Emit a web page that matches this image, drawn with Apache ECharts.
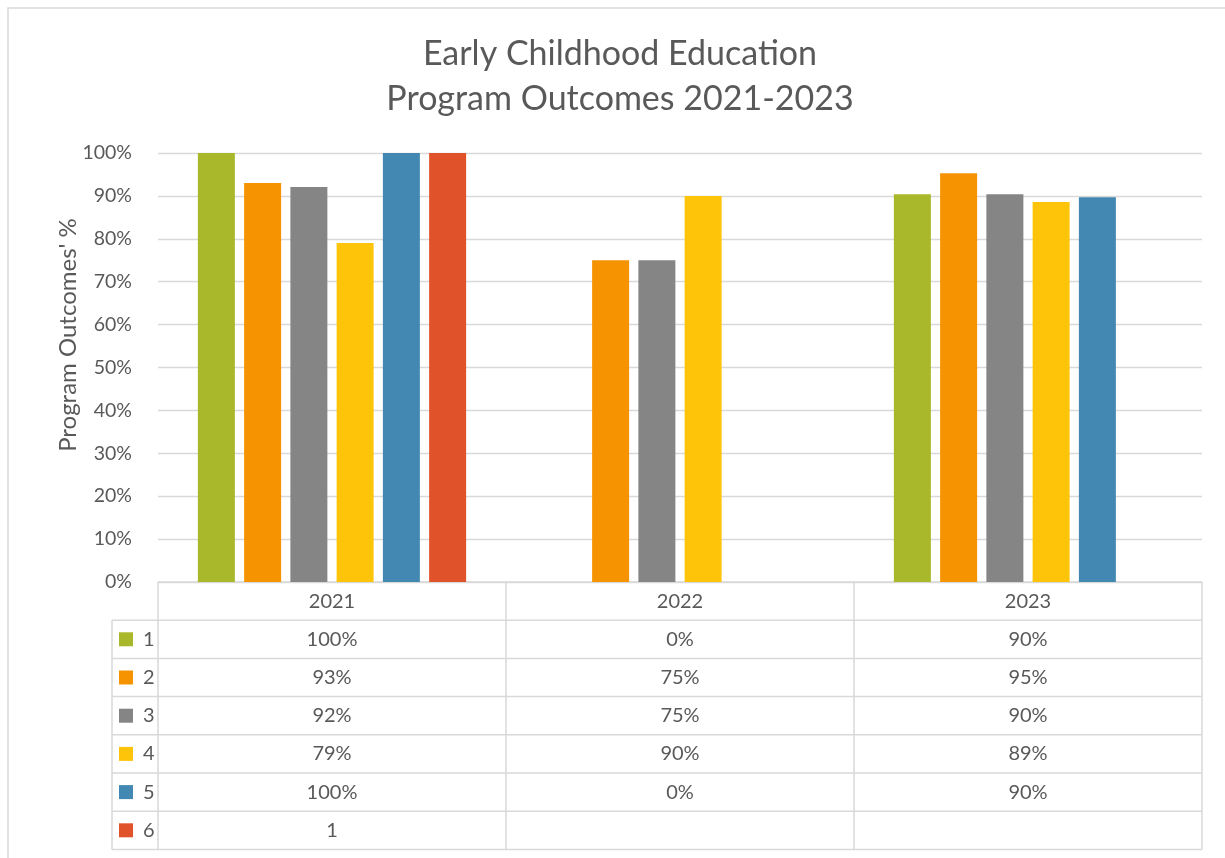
<!DOCTYPE html>
<html>
<head>
<meta charset="utf-8">
<title>Early Childhood Education Program Outcomes 2021-2023</title>
<style>
  html, body { margin: 0; padding: 0; background: #fff; }
  #chart { width: 1225px; height: 858px; }
</style>
<script src="https://cdn.jsdelivr.net/npm/echarts@6/dist/echarts.min.js"></script>
</head>
<body>
<div id="chart"></div>
<script>
// data
const years = ['2021', '2022', '2023'];
const seriesNames = ['1', '2', '3', '4', '5', '6'];
const outcome1 = [1.00, 0, 0.904];
const outcome2 = [0.93, 0.75, 0.953];
const outcome3 = [0.921, 0.75, 0.904];
const outcome4 = [0.79, 0.90, 0.886];
const outcome5 = [1.00, 0, 0.897];
const outcome6 = [1, null, null];
// series 6 is shown as a plain number in the data table, the rest as percent
const tableFormats = ['pct', 'pct', 'pct', 'pct', 'pct', 'general'];

const seriesData = [outcome1, outcome2, outcome3, outcome4, outcome5, outcome6];
const colors = ['#a8b82a', '#f59300', '#858585', '#fdc40a', '#4288b2', '#e0532a'];

const FONT = 'Lato';
const TEXT = '#595959';
const LINE = '#d9d9d9';

const fmt = (v, kind) => {
  if (v == null) return '';
  return kind === 'pct' ? Math.round(v * 100) + '%' : String(v);
};

const chart = echarts.init(document.getElementById('chart'));

chart.setOption({
  animation: false,
  color: colors,
  title: {
    text: 'Early Childhood Education\nProgram Outcomes 2021-2023',
    left: 620,
    top: 32,
    padding: 0,
    textAlign: 'center',
    textStyle: {
      fontFamily: FONT,
      fontSize: 34,
      fontWeight: 'normal',
      color: TEXT,
      lineHeight: 45
    }
  },
  grid: {
    left: 158,
    right: 23,
    top: 153,
    bottom: 276
  },
  xAxis: {
    type: 'category',
    data: years,
    axisLabel: { show: false },
    axisTick: { show: false },
    axisLine: { show: false }
  },
  yAxis: {
    type: 'value',
    min: 0,
    max: 1,
    interval: 0.1,
    axisLine: { show: false },
    axisTick: { show: false },
    axisLabel: {
      formatter: (v) => Math.round(v * 100) + '%',
      color: TEXT,
      fontFamily: FONT,
      fontSize: 19.5,
      margin: 26
    },
    splitLine: {
      lineStyle: { color: LINE, width: 1.3 }
    }
  },
  series: seriesNames.map((name, i) => ({
    name: name,
    type: 'bar',
    data: seriesData[i],
    barWidth: 37,
    barGap: '25%'
  }))
});

// data table under the plot, laid out from the category axis
const centers = years.map((y) => chart.convertToPixel({ xAxisIndex: 0 }, y));
const band = centers[1] - centers[0];
const baseY = chart.convertToPixel({ yAxisIndex: 0 }, 0);
const rowH = 38.2;
const legendLeft = 112;
const tableLeft = centers[0] - band / 2;
const tableRight = centers[centers.length - 1] + band / 2;
const rowsTop = baseY + rowH;
const tableBottom = rowsTop + seriesNames.length * rowH;

const lineStyle = { stroke: LINE, lineWidth: 1.5 };
const textStyle = (extra) => Object.assign({
  fill: TEXT,
  font: '20px ' + FONT,
  verticalAlign: 'middle'
}, extra);

const els = [];
// outer chart border
els.push({
  type: 'rect',
  shape: { x: 8, y: 8, width: 1240, height: 870 },
  style: { fill: null, stroke: LINE, lineWidth: 1.5 },
  silent: true
});
// header row top
els.push({ type: 'line', shape: { x1: tableLeft, y1: baseY, x2: tableRight, y2: baseY }, style: lineStyle });
for (let r = 0; r <= seriesNames.length; r++) {
  const y = rowsTop + r * rowH;
  els.push({ type: 'line', shape: { x1: legendLeft, y1: y, x2: tableRight, y2: y }, style: lineStyle });
}
els.push({ type: 'line', shape: { x1: legendLeft, y1: rowsTop, x2: legendLeft, y2: tableBottom }, style: lineStyle });
for (let c = 0; c <= years.length; c++) {
  const x = tableLeft + c * band;
  els.push({ type: 'line', shape: { x1: x, y1: baseY, x2: x, y2: tableBottom }, style: lineStyle });
}
years.forEach((y, c) => {
  els.push({
    type: 'text',
    x: centers[c],
    y: baseY + rowH / 2,
    style: textStyle({ text: y, align: 'center' })
  });
});
seriesNames.forEach((name, r) => {
  const cy = rowsTop + r * rowH + rowH / 2;
  els.push({
    type: 'rect',
    shape: { x: 119, y: cy - 7, width: 14, height: 14 },
    style: { fill: colors[r] }
  });
  els.push({
    type: 'text',
    x: 143,
    y: cy,
    style: textStyle({ text: name, align: 'left' })
  });
  seriesData[r].forEach((v, c) => {
    els.push({
      type: 'text',
      x: centers[c],
      y: cy,
      style: textStyle({ text: fmt(v, tableFormats[r]), align: 'center' })
    });
  });
});
// value axis title
els.push({
  type: 'text',
  x: 68,
  y: 335,
  rotation: Math.PI / 2,
  style: textStyle({ text: "Program Outcomes' %", align: 'center', font: '24px ' + FONT })
});

chart.setOption({ graphic: { elements: els } });
</script>
</body>
</html>
